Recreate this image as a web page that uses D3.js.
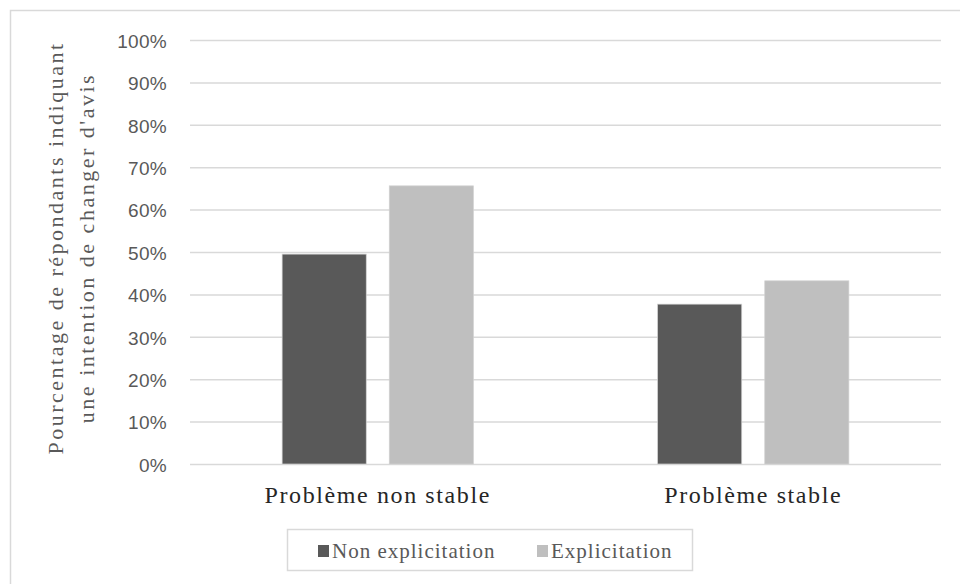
<!DOCTYPE html>
<html><head><meta charset="utf-8">
<script src="https://cdn.jsdelivr.net/npm/d3@7"></script>
<style>body{margin:0;background:#fff}svg{display:block}</style>
</head><body>
<script>
const categories = ["Problème non stable", "Problème stable"];
const seriesNames = ["Non explicitation", "Explicitation"];
const nonExplicitation = [0.495, 0.377];
const explicitation = [0.656, 0.432];
const yTicks = [0,0.1,0.2,0.3,0.4,0.5,0.6,0.7,0.8,0.9,1.0];
const colors = ["#595959", "#bfbfbf"];

const W=960,H=584;
const serif="'Liberation Serif', 'Times New Roman', serif";
const svg=d3.select("body").append("svg").attr("width",W).attr("height",H);
svg.append("rect").attr("x",10.5).attr("y",10.5).attr("width",W).attr("height",H).attr("fill","#fff").attr("stroke","#d9d9d9").attr("stroke-width",1.5);

const x0=190,x1=941,yTop=40,yBot=464;
const x=d3.scaleBand().domain(categories).range([x0,x1]);
const xs=d3.scaleBand().domain(seriesNames).range([0,x.bandwidth()]).paddingInner(0.215).paddingOuter(0.86);
const y=d3.scaleLinear().domain([0,1]).range([yBot,yTop]);

const grid=svg.append("g").attr("transform",`translate(${x0},0)`)
 .call(d3.axisLeft(y).tickValues(yTicks).tickSize(-(x1-x0)).tickFormat(d3.format(".0%")).tickPadding(23));
grid.select(".domain").remove();
grid.selectAll(".tick line").attr("stroke","#d9d9d9").attr("stroke-width",1.5);
grid.selectAll(".tick text").attr("fill","#595959").attr("dy","0.38em").style("font-family","'Liberation Sans', Arial, sans-serif").style("font-size","19px").style("letter-spacing","0.3px");

const data=categories.map((c,i)=>({c,vals:[nonExplicitation[i],explicitation[i]]}));
const g=svg.append("g");
data.forEach(d=>{
  d.vals.forEach((v,j)=>{
    g.append("rect").attr("x",x(d.c)+xs(seriesNames[j])).attr("width",xs.bandwidth())
     .attr("y",y(v)).attr("height",y(0)-y(v)).attr("fill",colors[j]).attr("stroke","#d0d0d0").attr("stroke-width",0.7);
  });
});

const xa=svg.append("g").attr("transform",`translate(0,${yBot})`).call(d3.axisBottom(x).tickSize(0).tickPadding(22));
xa.select(".domain").remove();
xa.selectAll(".tick text").attr("fill","#262626").style("font-family",serif).style("font-size","24px").style("letter-spacing","1.6px");

const t=svg.append("text").attr("transform",`translate(72,248) rotate(-90)`).attr("text-anchor","middle")
 .attr("fill","#595959").style("font-family",serif).style("font-size","22px").style("letter-spacing","2.5px");
t.append("tspan").attr("x",0).attr("dy","-0.4em").text("Pourcentage  de répondants indiquant");
t.append("tspan").attr("x",0).attr("dy","1.4em").text("une intention de changer d'avis");

const lg=svg.append("g");
lg.append("rect").attr("x",287.5).attr("y",529.5).attr("width",405).attr("height",41).attr("fill","#fff").attr("stroke","#d9d9d9").attr("stroke-width",1.5);
const items=[{n:seriesNames[0],x:318},{n:seriesNames[1],x:537}];
items.forEach((it,j)=>{
  lg.append("rect").attr("x",it.x).attr("y",545).attr("width",11).attr("height",12).attr("fill",colors[j]);
  lg.append("text").attr("x",it.x+14).attr("y",558).attr("fill","#595959")
   .style("font-family",serif).style("font-size","21px").style("letter-spacing","1px").text(it.n);
});
</script>
</body></html>
